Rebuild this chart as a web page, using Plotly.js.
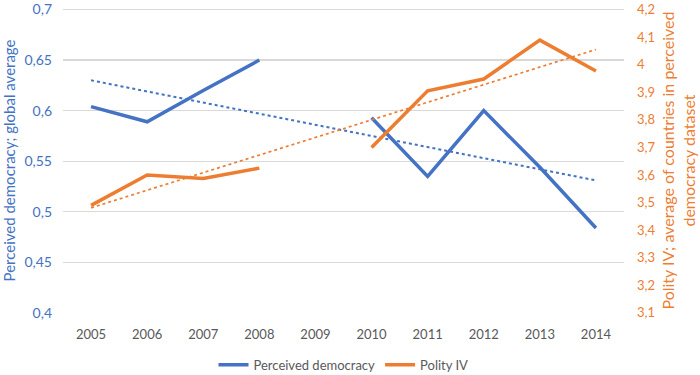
<!DOCTYPE html>
<html><head><meta charset="utf-8">
<script src="https://cdn.plot.ly/plotly-3.0.1.min.js"></script>
<style>html,body{margin:0;padding:0;background:#fff}#c{width:700px;height:375px}</style>
</head><body><div id="c"></div>
<script>
const years = ['2005','2006','2007','2008','2009','2010','2011','2012','2013','2014'];
const perceivedDemocracy = [0.604, 0.589, 0.620, 0.650, null, 0.593, 0.535, 0.600, 0.544, 0.484];
const polityIV = [3.49, 3.60, 3.587, 3.625, null, 3.70, 3.905, 3.948, 4.089, 3.977];
const trendYears = ['2005','2014'];
const perceivedTrend = [0.630, 0.531];
const polityTrend = [3.481, 4.055];
const leftTicks = [0.4,0.45,0.5,0.55,0.6,0.65,0.7];
const leftTickText = ['0,4','0,45','0,5','0,55','0,6','0,65','0,7'];
const rightTicks = [3.1,3.2,3.3,3.4,3.5,3.6,3.7,3.8,3.9,4.0,4.1,4.2];
const rightTickText = ['3,1','3,2','3,3','3,4','3,5','3,6','3,7','3,8','3,9','4','4,1','4,2'];

const BLUE = '#4472C4', ORANGE = '#ED7D31';
const FONT = 'Lato, "Open Sans", sans-serif';

const data = [
  {x: trendYears, y: perceivedTrend, type:'scatter', mode:'lines', yaxis:'y', showlegend:false, hoverinfo:'skip',
   line:{color:BLUE, width:2, dash:'dot'}},
  {x: trendYears, y: polityTrend, type:'scatter', mode:'lines', yaxis:'y2', showlegend:false, hoverinfo:'skip',
   line:{color:ORANGE, width:1.7, dash:'dot'}},
  {x: years, y: perceivedDemocracy, type:'scatter', mode:'lines', name:'Perceived democracy', yaxis:'y',
   connectgaps:false, line:{color:BLUE, width:3.5}},
  {x: years, y: polityIV, type:'scatter', mode:'lines', name:'Polity IV', yaxis:'y2',
   connectgaps:false, line:{color:ORANGE, width:3.5}}
];

const layout = {
  width:700, height:375,
  margin:{l:63, r:76, t:8, b:62},
  paper_bgcolor:'#fff', plot_bgcolor:'#fff',
  font:{family:FONT, size:13},
  separators:',.',
  xaxis:{type:'category', categoryarray:years, range:[-0.5,9.5], showgrid:false, zeroline:false,
    showline:false, ticks:'', ticklabelstandoff:12, automargin:false, tickfont:{color:'#595959', size:13}},
  yaxis:{range:[0.3999,0.7015], tickvals:leftTicks, ticktext:leftTickText, showgrid:true, gridcolor:'#D9D9D9', gridwidth:1.3,
    zeroline:false, showline:false, ticks:'', ticklabelstandoff:10, ticklabeloverflow:'allow', automargin:false,
    tickfont:{color:BLUE, size:14},
    title:{text:'Perceived democracy; global average', font:{color:BLUE, size:15}, standoff:8}},
  yaxis2:{range:[3.09963,4.2055], overlaying:'y', side:'right', tickvals:rightTicks, ticktext:rightTickText, showgrid:false,
    zeroline:false, showline:false, ticks:'', ticklabelstandoff:12, ticklabeloverflow:'allow', automargin:false,
    tickfont:{color:ORANGE, size:13},
    title:{text:'Polity IV; average of countries in perceived<br>democracy dataset', font:{color:ORANGE, size:16}, standoff:8}},
  legend:{orientation:'h', x:0.5, xanchor:'center', yref:'container', y:0.027, yanchor:'middle', font:{color:'#595959', size:13}},
  showlegend:true
};
Plotly.newPlot('c', data, layout, {displayModeBar:false, staticPlot:true});
</script></body></html>
